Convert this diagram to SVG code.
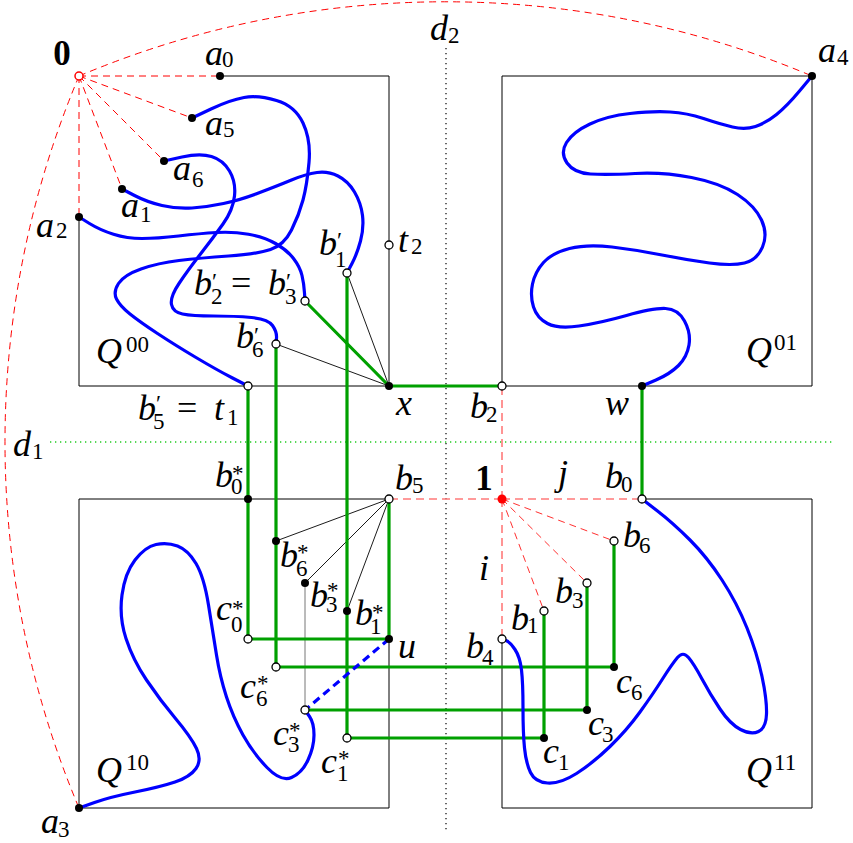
<svg xmlns="http://www.w3.org/2000/svg" width="853" height="843" viewBox="0 0 853 843">
<style>
.box{fill:none;stroke:#000;stroke-width:1}
.rd{fill:none;stroke:#f00;stroke-width:1;stroke-dasharray:7 5}
.pk{fill:none;stroke:#ff7a7a;stroke-width:1.6;stroke-dasharray:8 5}
.rt{fill:none;stroke:#ff3030;stroke-width:1;stroke-dasharray:7 5}
.gr{fill:none;stroke:#00a000;stroke-width:3.2}
.th{fill:none;stroke:#000;stroke-width:0.9}
.tg{fill:none;stroke:#777;stroke-width:1}
.bl{fill:none;stroke:#0000ff;stroke-width:3.2;stroke-linecap:round}
.bd{fill:none;stroke:#0000ff;stroke-width:3.2;stroke-dasharray:8 5}
.dk{fill:none;stroke:#000;stroke-width:1.2;stroke-dasharray:1.2 3.8}
.dg{fill:none;stroke:#22cc22;stroke-width:1.3;stroke-dasharray:1.3 3.7}
.f{fill:#000}
.o{fill:#fff;stroke:#000;stroke-width:1.3}
text{font-family:"Liberation Serif","Times New Roman",serif;fill:#000}
.m{font-style:italic;font-size:36px}
.s{font-style:normal;font-size:23px}
.e{font-style:normal;font-size:36px}
.b{font-weight:bold;font-size:35px}
</style>
<g id="boxes">
<path class="box" d="M220,76 H389 V386 H79 V217"/>
<path class="box" d="M502,386 V76 H812 V386 Z"/>
<path class="box" d="M389,499 H79 V808 H389 Z"/>
<path class="box" d="M642,499 H812 V808 H502 V639"/>
<text class="m" x="96" y="363">Q<tspan class="s" x="126" y="352">00</tspan></text>
<text class="m" x="746" y="362">Q<tspan class="s" x="774" y="350">01</tspan></text>
<text class="m" x="96" y="782">Q<tspan class="s" x="126" y="770">10</tspan></text>
<text class="m" x="746" y="782">Q<tspan class="s" x="774" y="770">11</tspan></text>
</g>
<g id="axes">
<path class="dk" d="M446,48 V832"/>
<path class="dg" d="M50,442 H835"/>
<text class="m" x="430" y="40">d<tspan class="s" x="448" y="43">2</tspan></text>
<text class="m" x="13" y="456">d<tspan class="s" x="32" y="459">1</tspan></text>
</g>
<g id="connectors">
<path class="rd" d="M79,76 L220,76"/>
<path class="rd" d="M79,76 L192,118"/>
<path class="rd" d="M79,76 L164,161"/>
<path class="rd" d="M79,76 L122,189"/>
<path class="rd" d="M79,76 L79,217"/>
<path class="rd" d="M79,76 A942,942 0 0 1 812,76"/>
<path class="rd" d="M79,76 A942,942 0 0 0 79,808"/>
<path class="pk" d="M502,499 H389 M502,499 H642 M502,499 V386 M502,499 V639"/>
<path class="rt" d="M502,499 L614,541 M502,499 L587,583 M502,499 L544,611"/>
<path class="th" d="M389,386 L347,273 M389,386 L276,344 M389,499 L276,541 M389,499 L305,583 M389,499 L347,611"/>
<path class="tg" d="M305,583 V710"/>
<path class="gr" d="M305,301 L389,386 H502"/>
<path class="gr" d="M642,386 V499"/>
<path class="gr" d="M248,386 V639 H389 V499"/>
<path class="gr" d="M276,344 V667 H614 V541"/>
<path class="gr" d="M347,273 V738 H544 V611"/>
<path class="gr" d="M305,710 H587 V583"/>
<path class="bl" d="M192,118 L211,109 Q230,100 244,97.5 Q258,95 276.5,100.5 Q295,106 303,123 Q311,140 309,162.5 Q307,185 303,200 Q299,215 291.5,230 Q284,245 270.5,249.5 Q257,254 228.5,256 Q200,258 179,260.5 Q158,263 141,269 Q124,275 118.5,283.5 Q113,292 116.5,299 Q120,306 130,314 Q140,322 157.5,333.5 Q175,345 196,357.5 Q217,370 232.5,378 L248,386"/>
<path class="bl" d="M164,161 L182,157 Q200,153 211.5,156.5 Q223,160 229.5,171 Q236,182 234.5,196 Q233,210 223,224 Q213,238 200.5,254 Q188,270 179,283.5 Q170,297 171.5,304.5 Q173,312 182.5,314 Q192,316 213.5,316 Q235,316 251.5,317.5 Q268,319 272.5,325.5 Q277,332 276.5,338 L276,344"/>
<path class="bl" d="M122,189 L134.5,195.5 Q147,202 162,205.5 Q177,209 192,208 Q207,207 223.5,203.5 Q240,200 258.5,193 Q277,186 291.5,180 Q306,174 317,172.5 Q328,171 338,176 Q348,181 354.5,192 Q361,203 362.5,215.5 Q364,228 360.5,241 Q357,254 352,263.5 L347,273"/>
<path class="bl" d="M79,217 L89.5,223.5 Q100,230 113.5,234.25 Q127,238.5 142,238.5 Q157,238.5 178.5,236 Q200,233.5 216.5,232.5 Q233,231.5 248.5,234.25 Q264,237 275.5,243.5 Q287,250 293.5,258.5 Q300,267 302,275.5 Q304,284 304.5,293 L305,302"/>
<path class="bl" d="M812,76 L799.5,91 Q787,106 776.5,114.5 Q766,123 755.5,126.5 Q745,130 732.5,127 Q720,124 703.5,118.5 Q687,113 670,112 Q653,111 630,113.5 Q607,116 590,124 Q573,132 566.5,142.5 Q560,153 567,163 Q574,173 590.5,174 Q607,175 635,173.5 Q663,172 691.5,177.5 Q720,183 737.5,194.5 Q755,206 761.5,220 Q768,234 762.5,247 Q757,260 744.5,263 Q732,266 709.5,263 Q687,260 662,255 Q637,250 612,247 Q587,244 569.5,248.5 Q552,253 543.5,262.5 Q535,272 532.5,284 Q530,296 533.5,307 Q537,318 547.5,323.5 Q558,329 579,326 Q600,323 626.5,315.5 Q653,308 665.5,308.5 Q678,309 684.5,321 Q691,333 689,345 Q687,357 678.5,365.5 Q670,374 656,380 L642,386"/>
<path class="bl" d="M79,808 L94.5,802.5 Q110,797 135,792 Q160,787 175,782 Q190,777 196,768.5 Q202,760 196.5,748.5 Q191,737 175.5,718.5 Q160,700 146.5,680 Q133,660 126,638.5 Q119,617 122,595 Q125,573 135,560 Q145,547 156,544.5 Q167,542 177.5,546 Q188,550 196,563.5 Q204,577 208.5,605 Q213,633 216.5,655 Q220,677 226.5,697 Q233,717 243,735 Q253,753 267,767.5 Q281,782 291.5,777.5 Q302,773 308,760 Q314,747 314,735 Q314,723 309.5,716.5 L305,710"/>
<path class="bl" d="M642,499 L657.5,511 Q673,523 690,540 Q707,557 722,580 Q737,603 747,628 Q757,653 762,676.5 Q767,700 766.5,714 Q766,728 758.5,731.5 Q751,735 740.5,729.5 Q730,724 720,709 Q710,694 702,679 Q694,664 688.5,657.5 Q683,651 677.5,657.5 Q672,664 662.5,679 Q653,694 640,712 Q627,730 610,746.5 Q593,763 576.5,773.5 Q560,784 547.5,783 Q535,782 530.5,772.5 Q526,763 524.5,748 Q523,733 523,708 Q523,683 521.5,670 Q520,657 515,649.5 Q510,642 506,640.5 L502,639"/>
<path class="bd" d="M389,639 L305,710"/>
</g>
<g id="n-0"><circle cx="79" cy="76" r="4" fill="#fff" stroke="#f00" stroke-width="1.5"/><text class="b" x="62" y="65" text-anchor="middle">0</text></g>
<g id="n-1"><circle cx="502" cy="499" r="4.5" fill="#f00"/><text class="b" x="484" y="490" text-anchor="middle">1</text></g>
<g id="n-a0"><circle class="f" cx="220" cy="76" r="4"/><text class="m" x="205" y="65">a<tspan class="s" x="222" y="67">0</tspan></text></g>
<g id="n-a5"><circle class="f" cx="192" cy="118" r="4"/><text class="m" x="205" y="135">a<tspan class="s" x="223" y="137">5</tspan></text></g>
<g id="n-a6"><circle class="f" cx="164" cy="161" r="4"/><text class="m" x="173" y="180">a<tspan class="s" x="192" y="187">6</tspan></text></g>
<g id="n-a1"><circle class="f" cx="122" cy="189" r="4"/><text class="m" x="121" y="217">a<tspan class="s" x="140" y="222">1</tspan></text></g>
<g id="n-a2"><circle class="f" cx="79" cy="217" r="4"/><text class="m" x="36" y="237">a<tspan class="s" x="56" y="238">2</tspan></text></g>
<g id="n-a4"><circle class="f" cx="812" cy="76" r="4"/><text class="m" x="818" y="62">a<tspan class="s" x="837" y="65">4</tspan></text></g>
<g id="n-a3"><circle class="f" cx="79" cy="808" r="4"/><text class="m" x="41" y="833">a<tspan class="s" x="58" y="837">3</tspan></text></g>
<g id="n-t2"><circle class="o" cx="389" cy="245" r="4"/><text class="m" x="398" y="252">t<tspan class="s" x="411" y="254">2</tspan></text></g>
<g id="n-b1p"><circle class="o" cx="347" cy="273" r="4"/><text class="m" x="319" y="255">b<tspan class="s" x="337" y="248">′</tspan><tspan class="s" x="335" y="267">1</tspan></text></g>
<g id="n-b2p"><circle class="o" cx="305" cy="301" r="4"/><text class="m" x="194" y="295">b<tspan class="s" x="212" y="289">′</tspan><tspan class="s" x="211" y="304">2</tspan><tspan class="e" x="231" y="295">=</tspan><tspan x="268" y="295">b</tspan><tspan class="s" x="286" y="289">′</tspan><tspan class="s" x="285" y="304">3</tspan></text></g>
<g id="n-b6p"><circle class="o" cx="276" cy="344" r="4"/><text class="m" x="236" y="348">b<tspan class="s" x="254" y="343">′</tspan><tspan class="s" x="252" y="357">6</tspan></text></g>
<g id="n-t1"><circle class="o" cx="248" cy="386" r="4"/><text class="m" x="138" y="420">b<tspan class="s" x="156" y="411">′</tspan><tspan class="s" x="153" y="429">5</tspan><tspan class="e" x="177" y="420">=</tspan><tspan x="214" y="420">t</tspan><tspan class="s" x="227" y="425">1</tspan></text></g>
<g id="n-x"><circle class="f" cx="389" cy="386" r="4"/><text class="m" x="396" y="415">x</text></g>
<g id="n-b2"><circle class="o" cx="502" cy="386" r="4"/><text class="m" x="470" y="418">b<tspan class="s" x="486" y="422">2</tspan></text></g>
<g id="n-w"><circle class="f" cx="642" cy="386" r="4"/><text class="m" x="605" y="415">w</text></g>
<g id="n-b0"><circle class="o" cx="642" cy="499" r="4"/><text class="m" x="605" y="488">b<tspan class="s" x="621" y="492">0</tspan></text></g>
<g id="n-b5"><circle class="o" cx="389" cy="499" r="4"/><text class="m" x="395" y="490">b<tspan class="s" x="412" y="493">5</tspan></text></g>
<g id="n-j"><text class="m" x="558" y="485">j</text></g>
<g id="n-i"><text class="m" x="479" y="580">i</text></g>
<g id="n-b6"><circle class="o" cx="614" cy="541" r="4"/><text class="m" x="623" y="547">b<tspan class="s" x="639" y="553">6</tspan></text></g>
<g id="n-b3"><circle class="o" cx="587" cy="583" r="4"/><text class="m" x="555" y="603">b<tspan class="s" x="572" y="608">3</tspan></text></g>
<g id="n-b1"><circle class="o" cx="544" cy="611" r="4"/><text class="m" x="511" y="630">b<tspan class="s" x="527" y="633">1</tspan></text></g>
<g id="n-b4"><circle class="o" cx="502" cy="639" r="4"/><text class="m" x="466" y="658">b<tspan class="s" x="482" y="665">4</tspan></text></g>
<g id="n-c6"><circle class="f" cx="614" cy="667" r="4"/><text class="m" x="616" y="693">c<tspan class="s" x="631" y="700">6</tspan></text></g>
<g id="n-c3"><circle class="f" cx="587" cy="710" r="4"/><text class="m" x="588" y="735">c<tspan class="s" x="602" y="742">3</tspan></text></g>
<g id="n-c1"><circle class="f" cx="544" cy="738" r="4"/><text class="m" x="543" y="763">c<tspan class="s" x="558" y="770">1</tspan></text></g>
<g id="n-b0s"><circle class="f" cx="248" cy="499" r="4"/><text class="m" x="215" y="487">b<tspan class="s" x="232" y="481">*</tspan><tspan class="s" x="231" y="494">0</tspan></text></g>
<g id="n-b6s"><circle class="f" cx="276" cy="541" r="4"/><text class="m" x="280" y="567">b<tspan class="s" x="297" y="560">*</tspan><tspan class="s" x="296" y="576">6</tspan></text></g>
<g id="n-b3s"><circle class="f" cx="305" cy="583" r="4"/><text class="m" x="310" y="607">b<tspan class="s" x="327" y="598">*</tspan><tspan class="s" x="326" y="612">3</tspan></text></g>
<g id="n-b1s"><circle class="f" cx="347" cy="611" r="4"/><text class="m" x="355" y="625">b<tspan class="s" x="372" y="620">*</tspan><tspan class="s" x="370" y="634">1</tspan></text></g>
<g id="n-u"><circle class="f" cx="389" cy="639" r="4"/><text class="m" x="398" y="658">u</text></g>
<g id="n-c0s"><circle class="o" cx="248" cy="639" r="4"/><text class="m" x="216" y="620">c<tspan class="s" x="232" y="616">*</tspan><tspan class="s" x="231" y="632">0</tspan></text></g>
<g id="n-c6s"><circle class="o" cx="276" cy="667" r="4"/><text class="m" x="240" y="698">c<tspan class="s" x="257" y="691">*</tspan><tspan class="s" x="256" y="706">6</tspan></text></g>
<g id="n-c3s"><circle class="o" cx="305" cy="710" r="4"/><text class="m" x="273" y="745">c<tspan class="s" x="289" y="738">*</tspan><tspan class="s" x="288" y="752">3</tspan></text></g>
<g id="n-c1s"><circle class="o" cx="347" cy="738" r="4"/><text class="m" x="321" y="773">c<tspan class="s" x="338" y="766">*</tspan><tspan class="s" x="337" y="781">1</tspan></text></g>
</svg>
